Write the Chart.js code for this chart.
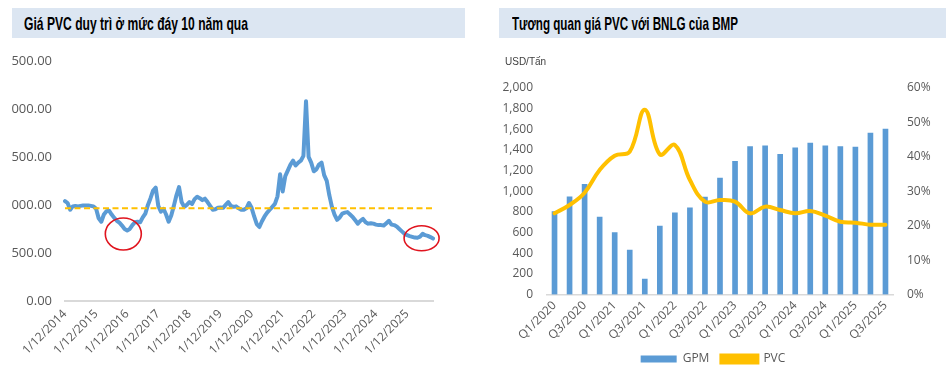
<!DOCTYPE html>
<html><head><meta charset="utf-8">
<script src="https://cdn.jsdelivr.net/npm/chart.js@4"></script>
<style>
html,body{margin:0;padding:0;background:#fff;}
body{width:946px;height:372px;position:relative;overflow:hidden;font-family:"Open Sans",sans-serif;}
.band{position:absolute;top:8px;height:30px;background:#DCE6F2;}
.title{position:absolute;top:0;height:30px;line-height:31px;font-family:"Liberation Sans Narrow","Liberation Sans",Arial,sans-serif;font-weight:bold;font-size:18.5px;color:#000;white-space:nowrap;transform-origin:left center;}
#cl{position:absolute;left:11px;top:40px;}
#cr{position:absolute;left:480px;top:40px;}
</style></head>
<body>
<div class="band" style="left:12px;width:453px"><div class="title" id="t1" style="left:12px">Giá PVC duy trì ở mức đáy 10 năm qua</div></div>
<div class="band" style="left:499px;width:447px"><div class="title" id="t2" style="left:13px">Tương quan giá PVC với BNLG của BMP</div></div>
<canvas id="cl" width="459" height="332"></canvas>
<canvas id="cr" width="500" height="332"></canvas>
<script>
// ---------- Left chart data ----------
const tickLabels = ['1/12/2014','1/12/2015','1/12/2016','1/12/2017','1/12/2018','1/12/2019','1/12/2020','1/12/2021','1/12/2022','1/12/2023','1/12/2024','1/12/2025'];
const pvcSpot = [
 1040,1020,950,985,990,985,990,995,995,995,990,985,
 960,860,825,900,935,940,900,865,835,815,785,750,
 735,750,790,820,825,820,870,910,1000,1070,1150,1180,
 990,930,960,900,825,890,990,1100,1185,1030,980,1000,
 1030,1010,1060,1085,1070,1050,1065,1030,990,950,955,970,
 972,970,1000,1030,990,980,985,965,950,950,965,1020,
 970,880,800,770,830,880,920,950,980,1010,1090,1320,
 1140,1300,1360,1420,1460,1410,1440,1460,1510,2080,1500,1440,
 1350,1370,1420,1440,1310,1250,1100,980,900,845,870,910,
 920,925,900,875,840,805,835,855,820,805,810,805,
 795,790,790,785,810,835,795,790,775,750,725,700,
 685,675,668,660,658,670,700,685,678,665,650
];
const referenceLevel = 965;
const highlightPoints = [{index:22.5, value:697}, {index:137.6, value:653}];

// ---------- Right chart data ----------
const quarters = ['Q1/2020','Q2/2020','Q3/2020','Q4/2020','Q1/2021','Q2/2021','Q3/2021','Q4/2021',
 'Q1/2022','Q2/2022','Q3/2022','Q4/2022','Q1/2023','Q2/2023','Q3/2023','Q4/2023',
 'Q1/2024','Q2/2024','Q3/2024','Q4/2024','Q1/2025','Q2/2025','Q3/2025'];
const gpmPct = [24.1,28.4,32.0,22.5,18.0,12.9,4.5,19.9,23.7,25.2,28.3,33.8,38.7,43.0,43.2,40.7,42.6,44.0,43.2,43.0,42.8,46.9,48.1];
const pvcPrice = [786,867,986,1206,1344,1383,1790,1357,1448,1109,899,915,899,786,851,818,786,809,764,705,696,676,676];

const TXT = '#595959';
Chart.defaults.font.family = '"Open Sans", sans-serif';
Chart.defaults.color = TXT;

// fit titles
[['t1',224],['t2',226]].forEach(([id,w])=>{
  const el=document.getElementById(id);
  const nat=el.getBoundingClientRect().width;
  if(nat>0) el.style.transform='scaleX('+(w/nat)+')';
});

const leftCats = pvcSpot.map((v,i)=> i%12===0 ? tickLabels[i/12] : '');

const leftDecor = {
  id:'leftDecor',
  afterDatasetsDraw(chart){
    const {ctx, chartArea:a, scales:{x,y}} = chart;
    ctx.save();
    const yy = y.getPixelForValue(referenceLevel);
    ctx.strokeStyle='#FFC000'; ctx.lineWidth=2; ctx.setLineDash([6,3.5]);
    ctx.beginPath(); ctx.moveTo(a.left,yy); ctx.lineTo(a.right,yy); ctx.stroke();
    ctx.setLineDash([]);
    ctx.strokeStyle='#E0141E'; ctx.lineWidth=1.6;
    const radii=[[18,16],[17.5,12.5]];
    highlightPoints.forEach((p,k)=>{
      const cx=x.getPixelForValue(p.index), cy=y.getPixelForValue(p.value);
      ctx.beginPath(); ctx.ellipse(cx,cy,radii[k][0],radii[k][1],0,0,Math.PI*2); ctx.stroke();
    });
    ctx.restore();
  }
};

new Chart(document.getElementById('cl'), {
  type:'line',
  data:{labels:leftCats, datasets:[{label:'PVC', data:pvcSpot, borderColor:'#5B9BD5', borderWidth:4, pointRadius:0, tension:0, fill:false, borderJoinStyle:'round', borderCapStyle:'round'}]},
  options:{
    responsive:false, animation:false, devicePixelRatio:1,
    layout:{padding:{left:0,right:37,top:20,bottom:0}},
    plugins:{legend:{display:false}, tooltip:{enabled:false}},
    scales:{
      x:{grid:{display:false,drawTicks:false}, border:{display:true,color:'#D9D9D9',width:2},
         ticks:{autoSkip:false,minRotation:45,maxRotation:45,padding:6,color:TXT,font:{size:12}},
         afterFit(s){s.height=71;}},
      y:{min:0,max:2500, grid:{display:false,drawTicks:false}, border:{display:false},
         ticks:{stepSize:500,padding:13,color:TXT,font:{size:13},
           callback:v=>v.toLocaleString('en-US',{minimumFractionDigits:2,maximumFractionDigits:2})},
         afterFit(s){s.width=54;}}
    }
  },
  plugins:[leftDecor]
});

const unitLabel = {
  id:'unitLabel',
  afterDraw(chart){
    const {ctx} = chart;
    ctx.save();
    ctx.font='10px "Liberation Sans", Arial, sans-serif';
    ctx.fillStyle='#404040'; ctx.textBaseline='middle'; ctx.textAlign='left';
    ctx.fillText('USD/Tấn', 25, 22);
    ctx.restore();
  }
};

new Chart(document.getElementById('cr'), {
  type:'bar',
  data:{labels:quarters, datasets:[
    {type:'bar', label:'GPM', data:gpmPct, yAxisID:'y1', backgroundColor:'#5B9BD5', barThickness:5, order:1},
    {type:'line', label:'PVC', data:pvcPrice, yAxisID:'y', borderColor:'#FFC000', backgroundColor:'#FFC000', borderWidth:4, pointRadius:0, tension:0.4, order:0, borderCapStyle:'round'}
  ]},
  options:{
    responsive:false, animation:false, devicePixelRatio:1,
    layout:{padding:{left:0,right:34,top:48,bottom:-3}},
    plugins:{
      tooltip:{enabled:false},
      legend:{position:'bottom', labels:{boxWidth:36, boxHeight:7, padding:12, color:TXT, font:{size:12},
        sort:(a,b)=>a.datasetIndex-b.datasetIndex}}
    },
    scales:{
      x:{offset:true, grid:{display:false,drawTicks:false}, border:{display:true,color:'#D9D9D9',width:1.5},
         ticks:{autoSkip:false,minRotation:45,maxRotation:45,padding:4,color:TXT,font:{size:12},
           callback(v,i){return i%2===0 ? this.getLabelForValue(v) : '';}},
         afterFit(s){s.height=46.5;}},
      y:{position:'left', min:0, max:2000, grid:{display:false,drawTicks:false}, border:{display:false},
         ticks:{stepSize:200,padding:14,color:TXT,font:{size:12}, callback:v=>v.toLocaleString('en-US')},
         afterFit(s){s.width=67;}},
      y1:{position:'right', min:0, max:60, grid:{display:false,drawTicks:false}, border:{display:false},
         ticks:{stepSize:10,padding:14,color:TXT,font:{size:12}, callback:v=>v+'%'},
         afterFit(s){s.width=53;}}
    }
  },
  plugins:[unitLabel]
});
</script>
</body></html>
